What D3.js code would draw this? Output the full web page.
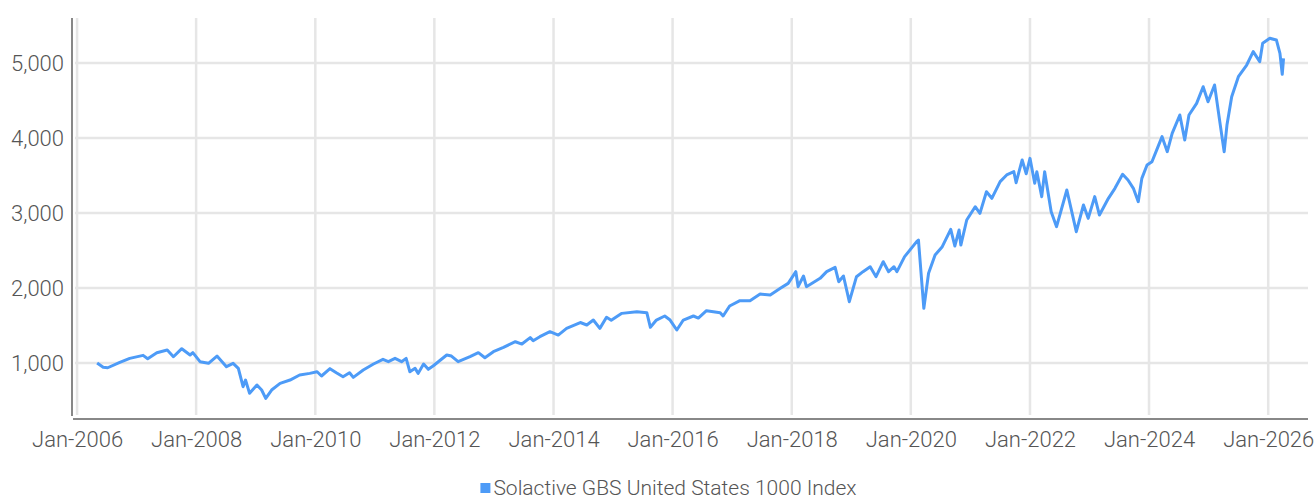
<!DOCTYPE html>
<meta charset="utf-8">
<style>
    body { margin: 0; background: white; }
    #chart text { font-family: Roboto, "Noto Sans", sans-serif; font-weight: 300; fill: #555; }
</style>
<body>
<div id="chart"></div>

<script src="https://d3js.org/d3.v7.min.js"></script>
<script>
var seriesName = "Solactive GBS United States 1000 Index";

// index level, roughly two points a month around the big moves
var dates = [
    "2006-05-04","2006-06-10","2006-07-08","2006-09-20","2006-11-20","2007-02-10","2007-03-10","2007-05-05",
    "2007-07-08","2007-08-15","2007-10-05","2007-11-25","2007-12-12","2008-01-25","2008-03-17","2008-05-08",
    "2008-07-05","2008-08-15","2008-09-16","2008-10-15","2008-10-30","2008-11-24","2009-01-08","2009-02-06",
    "2009-03-03","2009-04-08","2009-05-30","2009-07-30","2009-09-27","2009-11-28","2010-01-12","2010-02-08",
    "2010-04-01","2010-05-10","2010-06-20","2010-07-30","2010-08-22","2010-10-22","2010-12-24","2011-02-20",
    "2011-03-25","2011-05-05","2011-06-14","2011-07-12","2011-08-04","2011-09-05","2011-09-24","2011-10-27",
    "2011-11-25","2011-12-24","2012-03-17","2012-04-15","2012-05-26","2012-08-07","2012-09-27","2012-11-06",
    "2012-12-28","2013-02-28","2013-05-12","2013-06-21","2013-08-11","2013-08-29","2013-10-09","2013-12-10",
    "2014-01-30","2014-03-22","2014-06-14","2014-07-24","2014-09-02","2014-10-12","2014-11-22","2014-12-21",
    "2015-02-24","2015-05-27","2015-07-27","2015-08-18","2015-09-24","2015-11-14","2015-12-17","2016-01-27",
    "2016-03-07","2016-05-08","2016-06-07","2016-07-27","2016-10-19","2016-11-06","2016-12-16","2017-02-17",
    "2017-04-20","2017-06-21","2017-08-22","2017-10-23","2017-12-10","2018-01-26","2018-02-09","2018-03-14",
    "2018-04-01","2018-06-24","2018-08-03","2018-09-24","2018-10-16","2018-11-14","2018-12-20","2019-02-02",
    "2019-03-14","2019-04-27","2019-06-02","2019-07-16","2019-08-18","2019-09-20","2019-10-08","2019-11-24",
    "2020-02-06","2020-02-17","2020-03-21","2020-04-19","2020-05-29","2020-07-12","2020-09-02","2020-09-27",
    "2020-10-23","2020-11-03","2020-12-09","2021-01-30","2021-02-28","2021-04-09","2021-05-12","2021-07-02",
    "2021-08-11","2021-09-24","2021-10-08","2021-11-14","2021-12-09","2022-01-01","2022-01-30","2022-02-12",
    "2022-03-14","2022-04-01","2022-05-11","2022-06-13","2022-08-15","2022-10-12","2022-11-25","2022-12-24",
    "2023-02-02","2023-03-03","2023-04-27","2023-06-06","2023-07-23","2023-08-25","2023-09-27","2023-10-27",
    "2023-11-18","2023-12-20","2024-01-19","2024-02-21","2024-03-21","2024-04-22","2024-05-22","2024-07-08",
    "2024-08-07","2024-09-02","2024-10-19","2024-11-28","2024-12-28","2025-02-06","2025-03-10","2025-04-06",
    "2025-04-23","2025-05-22","2025-07-02","2025-08-22","2025-10-01","2025-11-10","2025-11-28","2026-01-11",
    "2026-02-20","2026-03-14","2026-03-28","2026-04-05"
];
var values = [
    1000, 943, 937, 1009, 1062, 1102, 1058, 1138,
    1173, 1084, 1191, 1107, 1138, 1018, 996, 1093,
    951, 996, 929, 684, 773, 596, 707, 640,
    529, 640, 729, 773, 840, 862, 884, 827,
    925, 871, 817, 871, 809, 907, 987, 1049,
    1018, 1062, 1018, 1062, 884, 929, 862, 987,
    916, 960, 1107, 1093, 1018, 1084, 1138, 1071,
    1151, 1209, 1284, 1253, 1338, 1298, 1351, 1418,
    1373, 1462, 1540, 1507, 1573, 1462, 1609, 1569,
    1662, 1684, 1671, 1476, 1573, 1627, 1573, 1440,
    1573, 1627, 1600, 1698, 1671, 1627, 1760, 1831,
    1831, 1920, 1907, 1996, 2062, 2218, 2018, 2160,
    2018, 2129, 2218, 2276, 2084, 2160, 1818, 2151,
    2218, 2284, 2151, 2351, 2218, 2284, 2218, 2418,
    2618, 2640, 1729, 2196, 2440, 2551, 2782, 2560,
    2773, 2573, 2907, 3084, 2996, 3284, 3196, 3418,
    3507, 3551, 3404, 3707, 3524, 3729, 3396, 3551,
    3218, 3551, 3018, 2818, 3307, 2751, 3107, 2929,
    3218, 2973, 3196, 3329, 3516, 3440, 3329, 3151,
    3462, 3640, 3684, 3862, 4018, 3818, 4062, 4307,
    3973, 4307, 4462, 4684, 4484, 4707, 4218, 3818,
    4173, 4551, 4818, 4973, 5151, 5018, 5262, 5329,
    5307, 5129, 4849, 5062
];
var yTicks = [1000, 2000, 3000, 4000, 5000];
var xTickYears = [2006, 2008, 2010, 2012, 2014, 2016, 2018, 2020, 2022, 2024, 2026];

var width = 1314, height = 500;
var plotLeft = 73, plotRight = 1308, plotTop = 18, plotBottom = 415;
var lineColor = '#4d9bf7';

var parse = d3.timeParse("%Y-%m-%d");
var data = dates.map(function(d, i) { return {date: parse(d), value: values[i]}; });

var x = d3.scaleTime()
    .domain([new Date(2005, 11, 7), new Date(2026, 8, 2)])
    .range([plotLeft, plotRight]);
var y = d3.scaleLinear()
    .domain([307, 5600])
    .range([plotBottom, plotTop]);

var svg = d3.select('#chart').append('svg')
    .attr('width', width)
    .attr('height', height);

var xTicks = xTickYears.map(function(yr) { return new Date(yr, 0, 1); });

// gridlines
svg.append('g')
    .selectAll('line')
    .data(yTicks)
    .join('line')
    .attr('x1', plotLeft + 2).attr('x2', plotRight)
    .attr('y1', d => y(d)).attr('y2', d => y(d))
    .attr('stroke', '#e6e6e6').attr('stroke-width', 2.5);
svg.append('g')
    .selectAll('line')
    .data(xTicks)
    .join('line')
    .attr('x1', d => x(d)).attr('x2', d => x(d))
    .attr('y1', plotTop).attr('y2', plotBottom)
    .attr('stroke', '#e6e6e6').attr('stroke-width', 2.5);

// axes
var yAxis = svg.append('g')
    .attr('transform', 'translate(' + (plotLeft - 1) + ',0)')
    .call(d3.axisLeft(y).tickValues(yTicks).tickSize(0).tickPadding(8).tickFormat(d3.format(',')));
yAxis.select('.domain').remove();
yAxis.selectAll('text').style('font-size', '22px');
svg.append('line')
    .attr('x1', plotLeft - 1).attr('x2', plotLeft - 1)
    .attr('y1', plotTop).attr('y2', plotBottom + 1)
    .attr('stroke', '#888').attr('stroke-width', 2);

var xAxis = svg.append('g')
    .attr('transform', 'translate(0,' + (plotBottom + 4) + ')')
    .call(d3.axisBottom(x).tickValues(xTicks).tickSize(0).tickPadding(12).tickFormat(d3.timeFormat('%b-%Y')));
xAxis.select('.domain').remove();
xAxis.selectAll('text').style('font-size', '22px');
svg.append('line')
    .attr('x1', plotLeft).attr('x2', plotRight)
    .attr('y1', plotBottom + 4).attr('y2', plotBottom + 4)
    .attr('stroke', '#888').attr('stroke-width', 2);

// series
var line = d3.line()
    .x(d => x(d.date))
    .y(d => y(d.value));
svg.append('path')
    .datum(data)
    .attr('d', line)
    .attr('fill', 'none')
    .attr('stroke', lineColor)
    .attr('stroke-width', 3)
    .attr('stroke-linejoin', 'round');

// legend
var legend = svg.append('g').attr('transform', 'translate(' + (width / 2) + ',488)');
var legendText = legend.append('text')
    .attr('x', 18)
    .attr('dy', '0.35em')
    .attr('text-anchor', 'middle')
    .style('font-size', '21px')
    .text(seriesName);
var tw = legendText.node().getComputedTextLength();
legend.append('rect')
    .attr('x', 18 - tw / 2 - 13).attr('y', -5)
    .attr('width', 10).attr('height', 10)
    .attr('fill', lineColor);
</script>
</body>
